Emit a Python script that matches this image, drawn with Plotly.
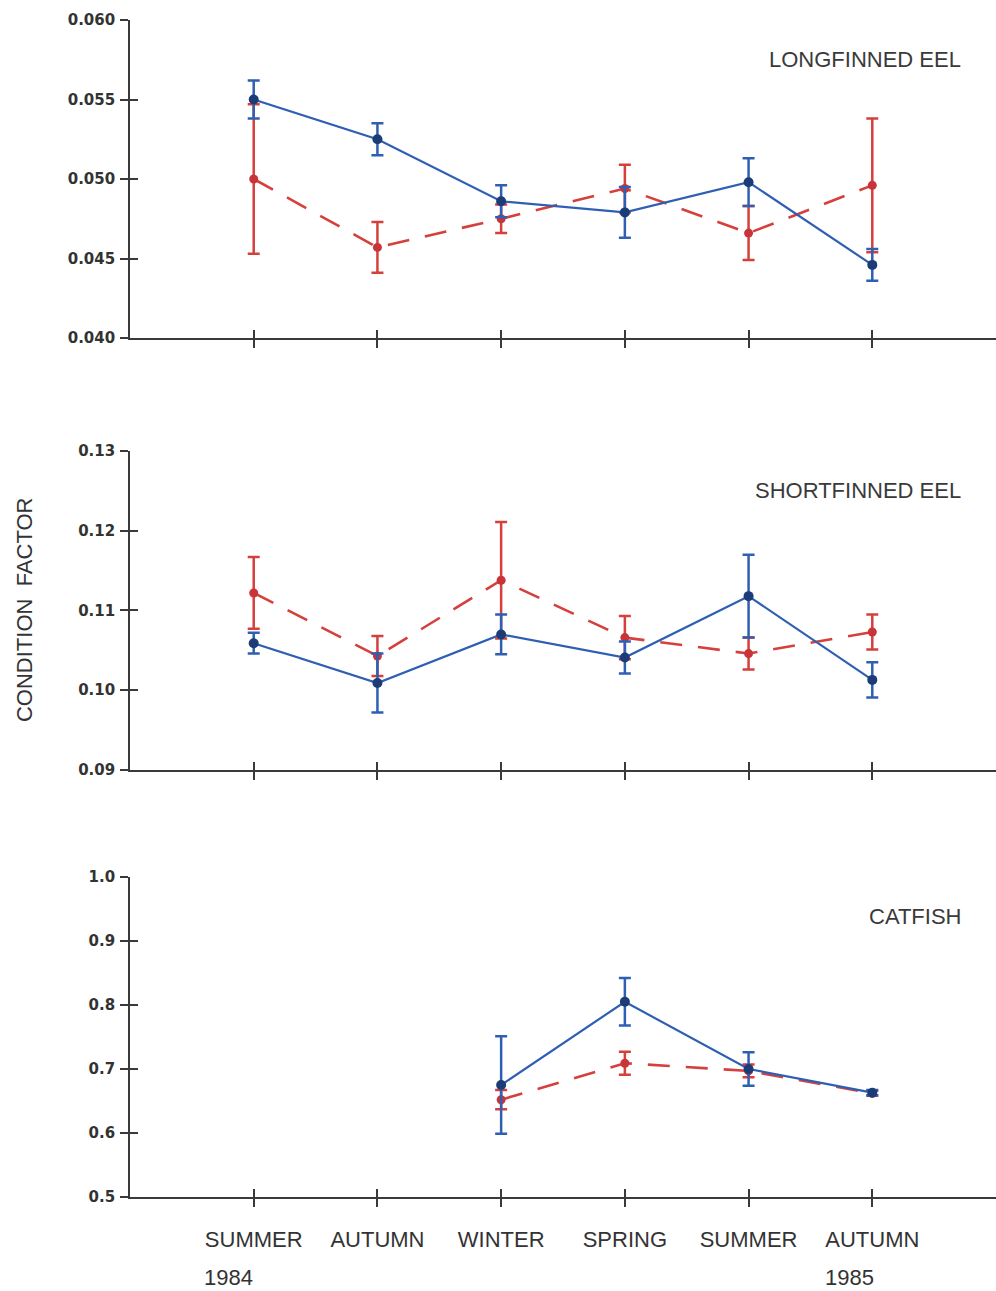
import plotly.graph_objects as go

seasons = ["SUMMER", "AUTUMN", "WINTER", "SPRING", "SUMMER", "AUTUMN"]
years = ["1984", "1985"]
species = ["LONGFINNED EEL", "SHORTFINNED EEL", "CATFISH"]

lf_blue = [0.0550, 0.0525, 0.0486, 0.0479, 0.0498, 0.0446]
lf_blue_err = [0.0012, 0.0010, 0.0010, 0.0016, 0.0015, 0.0010]
lf_red = [0.0500, 0.0457, 0.0475, 0.0494, 0.0466, 0.0496]
lf_red_err = [0.0047, 0.0016, 0.0009, 0.0015, 0.0017, 0.0042]

sf_blue = [0.1059, 0.1009, 0.1070, 0.1041, 0.1118, 0.1013]
sf_blue_err = [0.0013, 0.0037, 0.0025, 0.0020, 0.0052, 0.0022]
sf_red = [0.1122, 0.1043, 0.1138, 0.1066, 0.1046, 0.1073]
sf_red_err = [0.0045, 0.0025, 0.0073, 0.0027, 0.0020, 0.0022]

cf_blue = [None, None, 0.675, 0.805, 0.700, 0.663]
cf_blue_err = [None, None, 0.076, 0.037, 0.026, 0.004]
cf_red = [None, None, 0.652, 0.709, 0.697, 0.662]
cf_red_err = [None, None, 0.015, 0.018, 0.010, 0.004]

y_ranges = [[0.040, 0.060], [0.09, 0.13], [0.5, 1.0]]
y_dticks = [0.005, 0.01, 0.1]
y_formats = [".3f", ".2f", ".1f"]
domains = [[0.7298, 1.0], [0.3628, 0.6338], [0.0, 0.2719]]

BLUE = "#2f5fb3"
BLUE_M = "#1c3c78"
RED = "#d6403c"
RED_M = "#c9343a"
AX = "#3a3a3a"
FONT = "Liberation Sans, Arial, sans-serif"

xidx = list(range(len(seasons)))
fig = go.Figure()

panels = [
    (lf_blue, lf_blue_err, lf_red, lf_red_err),
    (sf_blue, sf_blue_err, sf_red, sf_red_err),
    (cf_blue, cf_blue_err, cf_red, cf_red_err),
]

for i, (b, be, r, re_) in enumerate(panels):
    n = "" if i == 0 else str(i + 1)
    xs = [x for x, v in zip(xidx, r) if v is not None]
    rv = [v for v in r if v is not None]
    rev = [v for v in re_ if v is not None]
    bv = [v for v in b if v is not None]
    bev = [v for v in be if v is not None]
    fig.add_trace(go.Scatter(
        x=xs, y=rv, mode="lines+markers", xaxis="x" + n, yaxis="y" + n,
        line=dict(color=RED, width=2.6, dash="22px,16px"),
        marker=dict(color=RED_M, size=9),
        error_y=dict(type="data", array=rev, visible=True, color=RED,
                     thickness=2.5, width=6),
        showlegend=False))
    fig.add_trace(go.Scatter(
        x=xs, y=bv, mode="lines+markers", xaxis="x" + n, yaxis="y" + n,
        line=dict(color=BLUE, width=2.2),
        marker=dict(color=BLUE_M, size=10),
        error_y=dict(type="data", array=bev, visible=True, color=BLUE,
                     thickness=2.5, width=6),
        showlegend=False))

layout = dict(
    width=996, height=1291,
    margin=dict(l=130, r=0, t=20, b=94),
    paper_bgcolor="white", plot_bgcolor="white",
    font=dict(family=FONT, color=AX),
    showlegend=False,
)

for i in range(3):
    n = "" if i == 0 else str(i + 1)
    xa = dict(
        domain=[0, 1], range=[-1, 6], anchor="y" + n,
        tickmode="array", tickvals=xidx,
        ticktext=seasons if i == 2 else [""] * len(seasons),
        showticklabels=(i == 2),
        ticks="outside", ticklen=8, tickwidth=1.6, tickcolor=AX,
        showline=True, linecolor=AX, linewidth=1.6,
        showgrid=False, zeroline=False,
        tickfont=dict(size=22, color="#333333"),
        ticklabelstandoff=14,
    )
    ya = dict(
        domain=domains[i], range=y_ranges[i], anchor="x" + n,
        tickmode="linear", tick0=y_ranges[i][0], dtick=y_dticks[i],
        tickformat=y_formats[i],
        ticks="outside", ticklen=8, tickwidth=1.6, tickcolor=AX,
        showline=True, linecolor=AX, linewidth=1.6,
        showgrid=False, zeroline=False,
        tickfont=dict(size=15, color="#333333", family="DejaVu Sans, sans-serif",
                      weight="bold"),
        ticklabelstandoff=2,
    )
    layout["xaxis" + n] = xa
    layout["yaxis" + n] = ya
    # overlay axes to draw the inner half of the crossing ticks
    ox = 4 + i
    oy = 4 + i
    layout["xaxis" + str(ox)] = dict(
        overlaying="x" + n, anchor="y" + n, range=[-1, 6],
        tickmode="array", tickvals=xidx, showticklabels=False,
        ticks="inside", ticklen=8, tickwidth=1.6, tickcolor=AX,
        showline=False, showgrid=False, zeroline=False)
    layout["yaxis" + str(oy)] = dict(
        overlaying="y" + n, anchor="x" + n, range=y_ranges[i],
        tickmode="linear", tick0=y_ranges[i][0], dtick=y_dticks[i],
        showticklabels=False,
        ticks="inside", ticklen=8, tickwidth=1.6, tickcolor=AX,
        showline=False, showgrid=False, zeroline=False)
    fig.add_trace(go.Scatter(x=[None], y=[None], xaxis="x" + str(ox),
                             yaxis="y" + str(oy), showlegend=False,
                             hoverinfo="skip"))

fig.update_layout(**layout)

annots = []
for i, name in enumerate(species):
    n = "" if i == 0 else str(i + 1)
    annots.append(dict(
        text=name, xref="x" + n + " domain", yref="y" + n + " domain",
        x=0.962, y=0.875, xanchor="right", yanchor="middle",
        showarrow=False, font=dict(size=22, color="#3a3a3a")))

annots.append(dict(text=years[0], xref="x3", yref="paper", x=0, y=0,
                   xanchor="left", yanchor="top", xshift=-52, yshift=-66,
                   showarrow=False, font=dict(size=22, color="#333333")))
annots.append(dict(text=years[1], xref="x3", yref="paper", x=5, y=0,
                   xanchor="left", yanchor="top", xshift=-49, yshift=-66,
                   showarrow=False, font=dict(size=22, color="#333333")))
annots.append(dict(text="CONDITION  FACTOR", xref="paper", yref="paper",
                   x=-0.1224, y=0.4987, textangle=-90, xanchor="center",
                   yanchor="middle", showarrow=False,
                   font=dict(size=22, color="#333333")))
fig.update_layout(annotations=annots)

fig.write_html("out.html")
